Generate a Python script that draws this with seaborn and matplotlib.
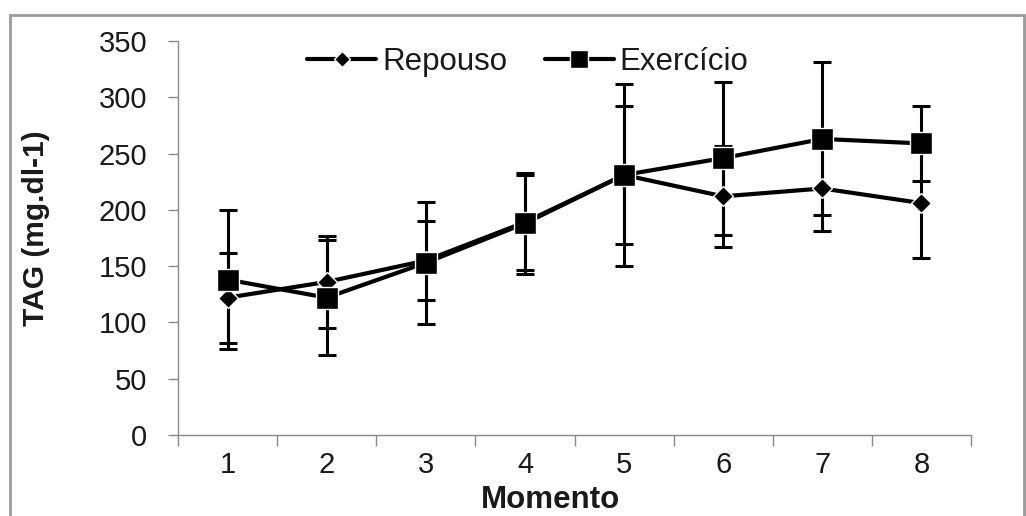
import numpy as np
import pandas as pd
import matplotlib
matplotlib.use("Agg")
import matplotlib.pyplot as plt
from matplotlib.patches import Rectangle
import seaborn as sns

# dados (media e desvio padrao)
momentos = [1, 2, 3, 4, 5, 6, 7, 8]
repouso_media = [122, 136, 155, 189, 231, 212, 219, 206]
repouso_dp = [40, 41, 35, 42, 61, 45, 38, 49]
exercicio_media = [138, 122, 153, 188, 231, 246, 263, 259]
exercicio_dp = [62, 51, 54, 45, 81, 68, 68, 33]
y_ticks = [0, 50, 100, 150, 200, 250, 300, 350]

sns.set_style("white")
plt.rcParams['font.family'] = ['Liberation Sans', 'DejaVu Sans']

fig = plt.figure(figsize=(10.26, 5.16), dpi=100)
ax = fig.add_axes([178 / 1026, 81 / 516, 793 / 1026, 394 / 516])

cinza = '#8a8a8a'

# barras de erro (desvio padrao)
ax.errorbar(momentos, repouso_media, yerr=repouso_dp, fmt='none', ecolor='black',
            elinewidth=2.2, capsize=6.5, capthick=2.2, zorder=2)
ax.errorbar(momentos, exercicio_media, yerr=exercicio_dp, fmt='none', ecolor='black',
            elinewidth=2.2, capsize=6.5, capthick=2.2, zorder=2)

# linhas com marcadores
sns.lineplot(x=momentos, y=repouso_media, marker='D', markersize=10.5, color='black',
             linewidth=3, markeredgewidth=1, label='Repouso', ax=ax, zorder=3)
sns.lineplot(x=momentos, y=exercicio_media, marker='s', markersize=15.5, color='black',
             linewidth=3, markeredgewidth=1, label='Exercício', ax=ax, zorder=4)

ax.set_xlim(0.5, 8.5)
ax.set_ylim(0, 350)
ax.set_yticks(y_ticks)
ax.set_xticks(momentos)
ax.set_xticklabels([str(m) for m in momentos])
ax.set_xticks(np.arange(0.5, 9, 1), minor=True)

ax.tick_params(axis='x', which='major', bottom=True, length=0, pad=11.5, labelsize=21,
               labelcolor='#1a1a1a')
ax.tick_params(axis='x', which='minor', bottom=True, length=8, width=1, color=cinza,
               direction='out')
ax.tick_params(axis='y', left=True, length=7, width=1, color=cinza, direction='out', pad=15,
               labelsize=21, labelcolor='#1a1a1a')

for lado in ['top', 'right']:
    ax.spines[lado].set_visible(False)
for lado in ['left', 'bottom']:
    ax.spines[lado].set_color(cinza)
    ax.spines[lado].set_linewidth(1)

ax.set_ylabel('TAG (mg.dl-1)', fontsize=21.5, fontweight='bold', color='#1a1a1a',
              ha='center', va='center')
ax.yaxis.set_label_coords(-0.179, 0.525)
ax.set_xlabel('Momento', fontsize=22.5, fontweight='bold', color='#1a1a1a',
              ha='center', va='center')
ax.xaxis.set_label_coords(0.470, -0.165)

leg = ax.legend(loc='center', bbox_to_anchor=(528 / 1026, 1 - 62 / 516),
                bbox_transform=fig.transFigure, ncol=2, frameon=False, fontsize=22.5,
                handlelength=2.2, handletextpad=0.2, columnspacing=1.2,
                borderpad=0, borderaxespad=0)
for txt in leg.get_texts():
    txt.set_color('#1a1a1a')
leg.legend_handles[0].set_markersize(8)
leg.legend_handles[1].set_markersize(13.5)

# moldura cinza da figura
fig.patches.append(Rectangle((10 / 1026, -0.1), 1014 / 1026, 1.1 - 15 / 516,
                             transform=fig.transFigure, fill=False,
                             edgecolor='#9a9a9a', linewidth=2))

fig.savefig('out.png', dpi=100)
